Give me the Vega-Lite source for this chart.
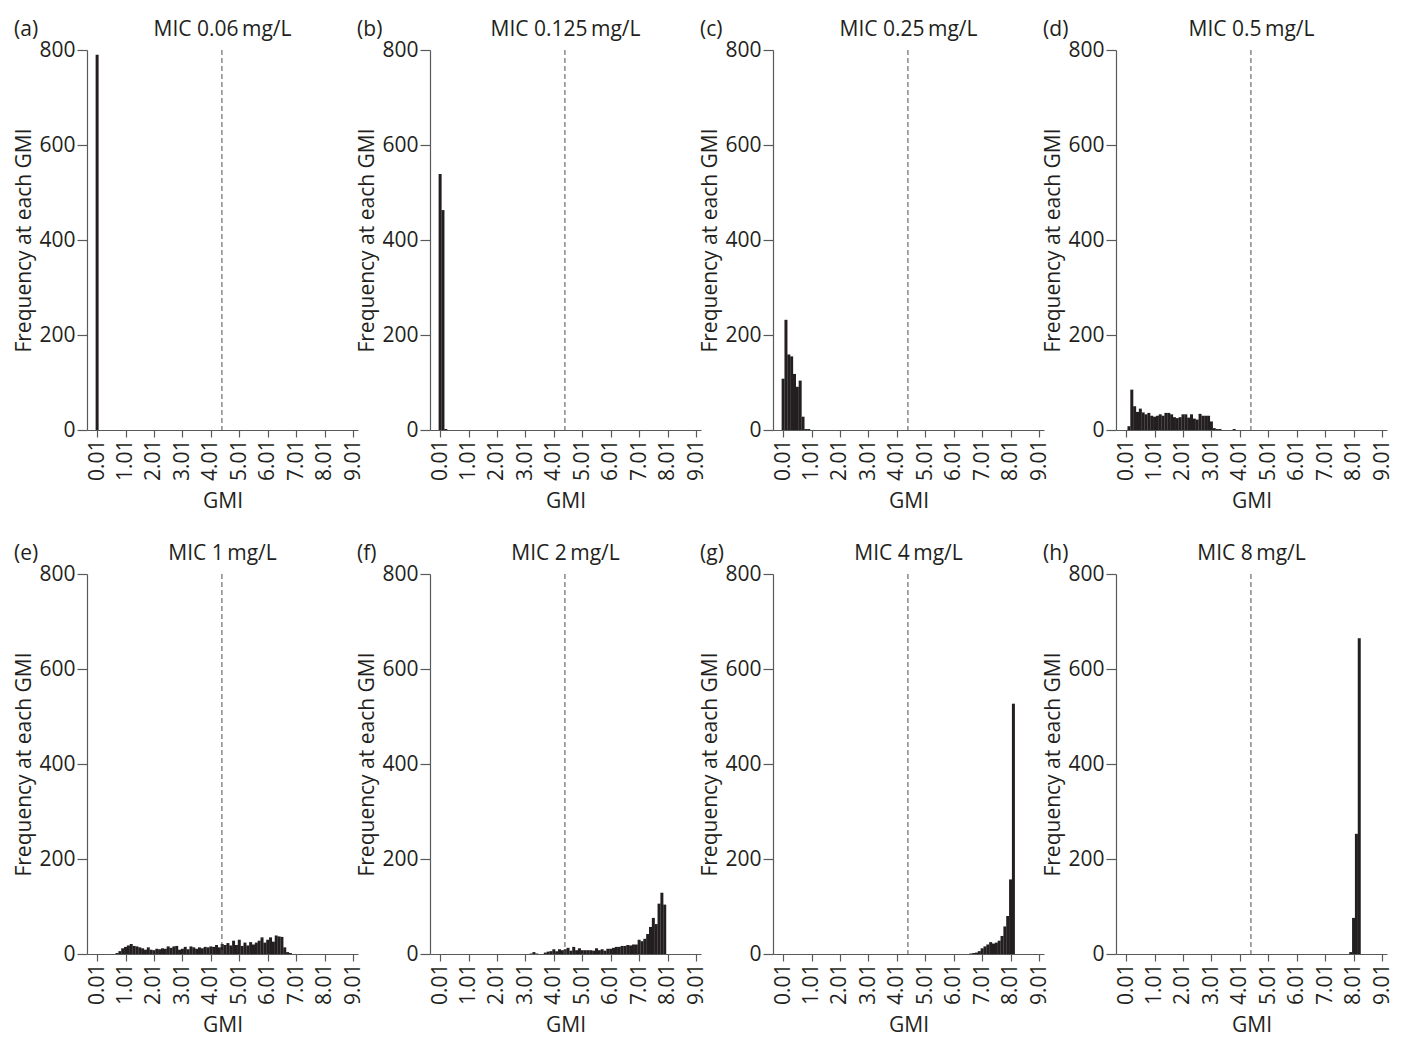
{
  "$schema": "https://vega.github.io/schema/vega-lite/v6.json",
  "padding": {"left": 13, "top": 18, "right": 5, "bottom": 5},
  "config": {
    "font": "Open Sans",
    "view": {"stroke": null},
    "axis": {"grid": false, "domainColor": "#58595b", "tickColor": "#58595b", "domainWidth": 1.2, "tickWidth": 1.2, "labelFont": "Open Sans", "labelFontSize": 21, "labelColor": "#231f20", "titleFont": "Open Sans", "titleFontSize": 21, "titleFontWeight": "normal", "titleColor": "#231f20", "labelPadding": 2, "labelOverlap": false, "labelBound": false, "labelFlush": false},
    "text": {"font": "Open Sans", "fontSize": 21, "color": "#231f20"}
  },
  "datasets": {
    "hist": [
      {"p":"a","gmi":0.01,"n":790},
      {"p":"b","gmi":0.01,"n":539},{"p":"b","gmi":0.11,"n":463},{"p":"b","gmi":0.21,"n":2},
      {"p":"c","gmi":0.01,"n":108},{"p":"c","gmi":0.11,"n":232},{"p":"c","gmi":0.21,"n":159},{"p":"c","gmi":0.31,"n":155},{"p":"c","gmi":0.41,"n":118},{"p":"c","gmi":0.51,"n":91},{"p":"c","gmi":0.61,"n":104},{"p":"c","gmi":0.71,"n":28},{"p":"c","gmi":0.81,"n":2},{"p":"c","gmi":0.91,"n":2},
      {"p":"d","gmi":0.11,"n":8},{"p":"d","gmi":0.21,"n":85},{"p":"d","gmi":0.31,"n":50},{"p":"d","gmi":0.41,"n":38},{"p":"d","gmi":0.51,"n":45},{"p":"d","gmi":0.61,"n":37},{"p":"d","gmi":0.71,"n":33},{"p":"d","gmi":0.81,"n":36},{"p":"d","gmi":0.91,"n":30},{"p":"d","gmi":1.01,"n":28},{"p":"d","gmi":1.11,"n":30},{"p":"d","gmi":1.21,"n":33},{"p":"d","gmi":1.31,"n":30},{"p":"d","gmi":1.41,"n":36},{"p":"d","gmi":1.51,"n":36},{"p":"d","gmi":1.61,"n":33},{"p":"d","gmi":1.71,"n":27},{"p":"d","gmi":1.81,"n":25},{"p":"d","gmi":1.91,"n":27},{"p":"d","gmi":2.01,"n":33},{"p":"d","gmi":2.11,"n":33},{"p":"d","gmi":2.21,"n":26},{"p":"d","gmi":2.31,"n":33},{"p":"d","gmi":2.41,"n":24},{"p":"d","gmi":2.51,"n":22},{"p":"d","gmi":2.61,"n":34},{"p":"d","gmi":2.71,"n":30},{"p":"d","gmi":2.81,"n":30},{"p":"d","gmi":2.91,"n":30},{"p":"d","gmi":3.01,"n":18},{"p":"d","gmi":3.11,"n":4},{"p":"d","gmi":3.21,"n":2},{"p":"d","gmi":3.31,"n":2},{"p":"d","gmi":3.81,"n":2},
      {"p":"e","gmi":0.71,"n":2},{"p":"e","gmi":0.81,"n":6},{"p":"e","gmi":0.91,"n":12},{"p":"e","gmi":1.01,"n":15},{"p":"e","gmi":1.11,"n":18},{"p":"e","gmi":1.21,"n":21},{"p":"e","gmi":1.31,"n":17},{"p":"e","gmi":1.41,"n":16},{"p":"e","gmi":1.51,"n":14},{"p":"e","gmi":1.61,"n":12},{"p":"e","gmi":1.71,"n":9},{"p":"e","gmi":1.81,"n":14},{"p":"e","gmi":1.91,"n":9},{"p":"e","gmi":2.01,"n":8},{"p":"e","gmi":2.11,"n":11},{"p":"e","gmi":2.21,"n":10},{"p":"e","gmi":2.31,"n":12},{"p":"e","gmi":2.41,"n":11},{"p":"e","gmi":2.51,"n":16},{"p":"e","gmi":2.61,"n":13},{"p":"e","gmi":2.71,"n":16},{"p":"e","gmi":2.81,"n":17},{"p":"e","gmi":2.91,"n":9},{"p":"e","gmi":3.01,"n":11},{"p":"e","gmi":3.11,"n":15},{"p":"e","gmi":3.21,"n":10},{"p":"e","gmi":3.31,"n":16},{"p":"e","gmi":3.41,"n":14},{"p":"e","gmi":3.51,"n":11},{"p":"e","gmi":3.61,"n":14},{"p":"e","gmi":3.71,"n":12},{"p":"e","gmi":3.81,"n":15},{"p":"e","gmi":3.91,"n":14},{"p":"e","gmi":4.01,"n":16},{"p":"e","gmi":4.11,"n":15},{"p":"e","gmi":4.21,"n":19},{"p":"e","gmi":4.31,"n":14},{"p":"e","gmi":4.41,"n":21},{"p":"e","gmi":4.51,"n":19},{"p":"e","gmi":4.61,"n":23},{"p":"e","gmi":4.71,"n":18},{"p":"e","gmi":4.81,"n":28},{"p":"e","gmi":4.91,"n":19},{"p":"e","gmi":5.01,"n":30},{"p":"e","gmi":5.11,"n":17},{"p":"e","gmi":5.21,"n":24},{"p":"e","gmi":5.31,"n":18},{"p":"e","gmi":5.41,"n":25},{"p":"e","gmi":5.51,"n":20},{"p":"e","gmi":5.61,"n":24},{"p":"e","gmi":5.71,"n":28},{"p":"e","gmi":5.81,"n":35},{"p":"e","gmi":5.91,"n":24},{"p":"e","gmi":6.01,"n":30},{"p":"e","gmi":6.11,"n":35},{"p":"e","gmi":6.21,"n":26},{"p":"e","gmi":6.31,"n":39},{"p":"e","gmi":6.41,"n":37},{"p":"e","gmi":6.51,"n":36},{"p":"e","gmi":6.61,"n":14},{"p":"e","gmi":6.71,"n":4},{"p":"e","gmi":6.81,"n":2},
      {"p":"f","gmi":3.21,"n":1},{"p":"f","gmi":3.31,"n":4},{"p":"f","gmi":3.41,"n":1},{"p":"f","gmi":3.71,"n":3},{"p":"f","gmi":3.81,"n":5},{"p":"f","gmi":3.91,"n":6},{"p":"f","gmi":4.01,"n":10},{"p":"f","gmi":4.11,"n":6},{"p":"f","gmi":4.21,"n":10},{"p":"f","gmi":4.31,"n":8},{"p":"f","gmi":4.41,"n":10},{"p":"f","gmi":4.51,"n":13},{"p":"f","gmi":4.61,"n":7},{"p":"f","gmi":4.71,"n":15},{"p":"f","gmi":4.81,"n":8},{"p":"f","gmi":4.91,"n":12},{"p":"f","gmi":5.01,"n":8},{"p":"f","gmi":5.11,"n":8},{"p":"f","gmi":5.21,"n":8},{"p":"f","gmi":5.31,"n":8},{"p":"f","gmi":5.41,"n":7},{"p":"f","gmi":5.51,"n":12},{"p":"f","gmi":5.61,"n":8},{"p":"f","gmi":5.71,"n":10},{"p":"f","gmi":5.81,"n":7},{"p":"f","gmi":5.91,"n":11},{"p":"f","gmi":6.01,"n":11},{"p":"f","gmi":6.11,"n":13},{"p":"f","gmi":6.21,"n":15},{"p":"f","gmi":6.31,"n":15},{"p":"f","gmi":6.41,"n":17},{"p":"f","gmi":6.51,"n":17},{"p":"f","gmi":6.61,"n":19},{"p":"f","gmi":6.71,"n":18},{"p":"f","gmi":6.81,"n":20},{"p":"f","gmi":6.91,"n":20},{"p":"f","gmi":7.01,"n":30},{"p":"f","gmi":7.11,"n":27},{"p":"f","gmi":7.21,"n":32},{"p":"f","gmi":7.31,"n":42},{"p":"f","gmi":7.41,"n":57},{"p":"f","gmi":7.51,"n":76},{"p":"f","gmi":7.61,"n":63},{"p":"f","gmi":7.71,"n":106},{"p":"f","gmi":7.81,"n":129},{"p":"f","gmi":7.91,"n":104},
      {"p":"g","gmi":6.61,"n":1},{"p":"g","gmi":6.71,"n":2},{"p":"g","gmi":6.81,"n":3},{"p":"g","gmi":6.91,"n":6},{"p":"g","gmi":7.01,"n":12},{"p":"g","gmi":7.11,"n":16},{"p":"g","gmi":7.21,"n":20},{"p":"g","gmi":7.31,"n":25},{"p":"g","gmi":7.41,"n":22},{"p":"g","gmi":7.51,"n":24},{"p":"g","gmi":7.61,"n":28},{"p":"g","gmi":7.71,"n":38},{"p":"g","gmi":7.81,"n":58},{"p":"g","gmi":7.91,"n":80},{"p":"g","gmi":8.01,"n":157},{"p":"g","gmi":8.11,"n":527},
      {"p":"h","gmi":7.91,"n":4},{"p":"h","gmi":8.01,"n":76},{"p":"h","gmi":8.11,"n":253},{"p":"h","gmi":8.21,"n":665}
    ]
  },
  "columns": 4,
  "bounds": "flush",
  "spacing": {"row": 144, "column": 72},
  "concat": [
    {"width": 271, "height": 380, "layer": [
      {"data": {"name": "hist"}, "transform": [{"filter": "datum.p === 'a'"}], "mark": {"type": "bar", "size": 3, "color": "#231f20"},
       "encoding": {"x": {"field": "gmi", "type": "quantitative", "scale": {"domain": [-0.17, 9.01], "nice": false, "zero": false}, "axis": {"values": [0.01,1.01,2.01,3.01,4.01,5.01,6.01,7.01,8.01,9.01], "tickCount": 20, "format": ".2f", "labelAngle": 270, "labelOverlap": false, "title": "GMI", "tickSize": 7, "titlePadding": 10}},
                    "y": {"field": "n", "type": "quantitative", "scale": {"domain": [0, 800], "nice": false}, "axis": {"values": [0,200,400,600,800], "tickCount": 10, "labelOverlap": false, "tickSize": 10, "title": "Frequency at each GMI", "titlePadding": 4}}}},
      {"data": {"values": [{"gmi": 4.4}]}, "mark": {"type": "rule", "strokeDash": [5, 3], "color": "#4d4d4f", "strokeWidth": 1}, "encoding": {"x": {"field": "gmi", "type": "quantitative"}}},
      {"data": {"values": [{"label": "(a)"}]}, "mark": {"type": "text", "align": "left", "baseline": "alphabetic"}, "encoding": {"x": {"datum": -2.91}, "y": {"datum": 830}, "text": {"field": "label"}}},
      {"data": {"values": [{"label": "MIC 0.06\u2009mg/L"}]}, "mark": {"type": "text", "align": "center", "baseline": "alphabetic"}, "encoding": {"x": {"datum": 4.42}, "y": {"datum": 830}, "text": {"field": "label"}}}
    ]},
    {"width": 271, "height": 380, "layer": [
      {"data": {"name": "hist"}, "transform": [{"filter": "datum.p === 'b'"}], "mark": {"type": "bar", "size": 3, "color": "#231f20"},
       "encoding": {"x": {"field": "gmi", "type": "quantitative", "scale": {"domain": [-0.17, 9.01], "nice": false, "zero": false}, "axis": {"values": [0.01,1.01,2.01,3.01,4.01,5.01,6.01,7.01,8.01,9.01], "tickCount": 20, "format": ".2f", "labelAngle": 270, "labelOverlap": false, "title": "GMI", "tickSize": 7, "titlePadding": 10}},
                    "y": {"field": "n", "type": "quantitative", "scale": {"domain": [0, 800], "nice": false}, "axis": {"values": [0,200,400,600,800], "tickCount": 10, "labelOverlap": false, "tickSize": 10, "title": "Frequency at each GMI", "titlePadding": 4}}}},
      {"data": {"values": [{"gmi": 4.4}]}, "mark": {"type": "rule", "strokeDash": [5, 3], "color": "#4d4d4f", "strokeWidth": 1}, "encoding": {"x": {"field": "gmi", "type": "quantitative"}}},
      {"data": {"values": [{"label": "(b)"}]}, "mark": {"type": "text", "align": "left", "baseline": "alphabetic"}, "encoding": {"x": {"datum": -2.91}, "y": {"datum": 830}, "text": {"field": "label"}}},
      {"data": {"values": [{"label": "MIC 0.125\u2009mg/L"}]}, "mark": {"type": "text", "align": "center", "baseline": "alphabetic"}, "encoding": {"x": {"datum": 4.42}, "y": {"datum": 830}, "text": {"field": "label"}}}
    ]},
    {"width": 271, "height": 380, "layer": [
      {"data": {"name": "hist"}, "transform": [{"filter": "datum.p === 'c'"}], "mark": {"type": "bar", "size": 3, "color": "#231f20"},
       "encoding": {"x": {"field": "gmi", "type": "quantitative", "scale": {"domain": [-0.17, 9.01], "nice": false, "zero": false}, "axis": {"values": [0.01,1.01,2.01,3.01,4.01,5.01,6.01,7.01,8.01,9.01], "tickCount": 20, "format": ".2f", "labelAngle": 270, "labelOverlap": false, "title": "GMI", "tickSize": 7, "titlePadding": 10}},
                    "y": {"field": "n", "type": "quantitative", "scale": {"domain": [0, 800], "nice": false}, "axis": {"values": [0,200,400,600,800], "tickCount": 10, "labelOverlap": false, "tickSize": 10, "title": "Frequency at each GMI", "titlePadding": 4}}}},
      {"data": {"values": [{"gmi": 4.4}]}, "mark": {"type": "rule", "strokeDash": [5, 3], "color": "#4d4d4f", "strokeWidth": 1}, "encoding": {"x": {"field": "gmi", "type": "quantitative"}}},
      {"data": {"values": [{"label": "(c)"}]}, "mark": {"type": "text", "align": "left", "baseline": "alphabetic"}, "encoding": {"x": {"datum": -2.91}, "y": {"datum": 830}, "text": {"field": "label"}}},
      {"data": {"values": [{"label": "MIC 0.25\u2009mg/L"}]}, "mark": {"type": "text", "align": "center", "baseline": "alphabetic"}, "encoding": {"x": {"datum": 4.42}, "y": {"datum": 830}, "text": {"field": "label"}}}
    ]},
    {"width": 271, "height": 380, "layer": [
      {"data": {"name": "hist"}, "transform": [{"filter": "datum.p === 'd'"}], "mark": {"type": "bar", "size": 3, "color": "#231f20"},
       "encoding": {"x": {"field": "gmi", "type": "quantitative", "scale": {"domain": [-0.17, 9.01], "nice": false, "zero": false}, "axis": {"values": [0.01,1.01,2.01,3.01,4.01,5.01,6.01,7.01,8.01,9.01], "tickCount": 20, "format": ".2f", "labelAngle": 270, "labelOverlap": false, "title": "GMI", "tickSize": 7, "titlePadding": 10}},
                    "y": {"field": "n", "type": "quantitative", "scale": {"domain": [0, 800], "nice": false}, "axis": {"values": [0,200,400,600,800], "tickCount": 10, "labelOverlap": false, "tickSize": 10, "title": "Frequency at each GMI", "titlePadding": 4}}}},
      {"data": {"values": [{"gmi": 4.4}]}, "mark": {"type": "rule", "strokeDash": [5, 3], "color": "#4d4d4f", "strokeWidth": 1}, "encoding": {"x": {"field": "gmi", "type": "quantitative"}}},
      {"data": {"values": [{"label": "(d)"}]}, "mark": {"type": "text", "align": "left", "baseline": "alphabetic"}, "encoding": {"x": {"datum": -2.91}, "y": {"datum": 830}, "text": {"field": "label"}}},
      {"data": {"values": [{"label": "MIC 0.5\u2009mg/L"}]}, "mark": {"type": "text", "align": "center", "baseline": "alphabetic"}, "encoding": {"x": {"datum": 4.42}, "y": {"datum": 830}, "text": {"field": "label"}}}
    ]},
    {"width": 271, "height": 380, "layer": [
      {"data": {"name": "hist"}, "transform": [{"filter": "datum.p === 'e'"}], "mark": {"type": "bar", "size": 3, "color": "#231f20"},
       "encoding": {"x": {"field": "gmi", "type": "quantitative", "scale": {"domain": [-0.17, 9.01], "nice": false, "zero": false}, "axis": {"values": [0.01,1.01,2.01,3.01,4.01,5.01,6.01,7.01,8.01,9.01], "tickCount": 20, "format": ".2f", "labelAngle": 270, "labelOverlap": false, "title": "GMI", "tickSize": 7, "titlePadding": 10}},
                    "y": {"field": "n", "type": "quantitative", "scale": {"domain": [0, 800], "nice": false}, "axis": {"values": [0,200,400,600,800], "tickCount": 10, "labelOverlap": false, "tickSize": 10, "title": "Frequency at each GMI", "titlePadding": 4}}}},
      {"data": {"values": [{"gmi": 4.4}]}, "mark": {"type": "rule", "strokeDash": [5, 3], "color": "#4d4d4f", "strokeWidth": 1}, "encoding": {"x": {"field": "gmi", "type": "quantitative"}}},
      {"data": {"values": [{"label": "(e)"}]}, "mark": {"type": "text", "align": "left", "baseline": "alphabetic"}, "encoding": {"x": {"datum": -2.91}, "y": {"datum": 830}, "text": {"field": "label"}}},
      {"data": {"values": [{"label": "MIC 1\u2009mg/L"}]}, "mark": {"type": "text", "align": "center", "baseline": "alphabetic"}, "encoding": {"x": {"datum": 4.42}, "y": {"datum": 830}, "text": {"field": "label"}}}
    ]},
    {"width": 271, "height": 380, "layer": [
      {"data": {"name": "hist"}, "transform": [{"filter": "datum.p === 'f'"}], "mark": {"type": "bar", "size": 3, "color": "#231f20"},
       "encoding": {"x": {"field": "gmi", "type": "quantitative", "scale": {"domain": [-0.17, 9.01], "nice": false, "zero": false}, "axis": {"values": [0.01,1.01,2.01,3.01,4.01,5.01,6.01,7.01,8.01,9.01], "tickCount": 20, "format": ".2f", "labelAngle": 270, "labelOverlap": false, "title": "GMI", "tickSize": 7, "titlePadding": 10}},
                    "y": {"field": "n", "type": "quantitative", "scale": {"domain": [0, 800], "nice": false}, "axis": {"values": [0,200,400,600,800], "tickCount": 10, "labelOverlap": false, "tickSize": 10, "title": "Frequency at each GMI", "titlePadding": 4}}}},
      {"data": {"values": [{"gmi": 4.4}]}, "mark": {"type": "rule", "strokeDash": [5, 3], "color": "#4d4d4f", "strokeWidth": 1}, "encoding": {"x": {"field": "gmi", "type": "quantitative"}}},
      {"data": {"values": [{"label": "(f)"}]}, "mark": {"type": "text", "align": "left", "baseline": "alphabetic"}, "encoding": {"x": {"datum": -2.91}, "y": {"datum": 830}, "text": {"field": "label"}}},
      {"data": {"values": [{"label": "MIC 2\u2009mg/L"}]}, "mark": {"type": "text", "align": "center", "baseline": "alphabetic"}, "encoding": {"x": {"datum": 4.42}, "y": {"datum": 830}, "text": {"field": "label"}}}
    ]},
    {"width": 271, "height": 380, "layer": [
      {"data": {"name": "hist"}, "transform": [{"filter": "datum.p === 'g'"}], "mark": {"type": "bar", "size": 3, "color": "#231f20"},
       "encoding": {"x": {"field": "gmi", "type": "quantitative", "scale": {"domain": [-0.17, 9.01], "nice": false, "zero": false}, "axis": {"values": [0.01,1.01,2.01,3.01,4.01,5.01,6.01,7.01,8.01,9.01], "tickCount": 20, "format": ".2f", "labelAngle": 270, "labelOverlap": false, "title": "GMI", "tickSize": 7, "titlePadding": 10}},
                    "y": {"field": "n", "type": "quantitative", "scale": {"domain": [0, 800], "nice": false}, "axis": {"values": [0,200,400,600,800], "tickCount": 10, "labelOverlap": false, "tickSize": 10, "title": "Frequency at each GMI", "titlePadding": 4}}}},
      {"data": {"values": [{"gmi": 4.4}]}, "mark": {"type": "rule", "strokeDash": [5, 3], "color": "#4d4d4f", "strokeWidth": 1}, "encoding": {"x": {"field": "gmi", "type": "quantitative"}}},
      {"data": {"values": [{"label": "(g)"}]}, "mark": {"type": "text", "align": "left", "baseline": "alphabetic"}, "encoding": {"x": {"datum": -2.91}, "y": {"datum": 830}, "text": {"field": "label"}}},
      {"data": {"values": [{"label": "MIC 4\u2009mg/L"}]}, "mark": {"type": "text", "align": "center", "baseline": "alphabetic"}, "encoding": {"x": {"datum": 4.42}, "y": {"datum": 830}, "text": {"field": "label"}}}
    ]},
    {"width": 271, "height": 380, "layer": [
      {"data": {"name": "hist"}, "transform": [{"filter": "datum.p === 'h'"}], "mark": {"type": "bar", "size": 3, "color": "#231f20"},
       "encoding": {"x": {"field": "gmi", "type": "quantitative", "scale": {"domain": [-0.17, 9.01], "nice": false, "zero": false}, "axis": {"values": [0.01,1.01,2.01,3.01,4.01,5.01,6.01,7.01,8.01,9.01], "tickCount": 20, "format": ".2f", "labelAngle": 270, "labelOverlap": false, "title": "GMI", "tickSize": 7, "titlePadding": 10}},
                    "y": {"field": "n", "type": "quantitative", "scale": {"domain": [0, 800], "nice": false}, "axis": {"values": [0,200,400,600,800], "tickCount": 10, "labelOverlap": false, "tickSize": 10, "title": "Frequency at each GMI", "titlePadding": 4}}}},
      {"data": {"values": [{"gmi": 4.4}]}, "mark": {"type": "rule", "strokeDash": [5, 3], "color": "#4d4d4f", "strokeWidth": 1}, "encoding": {"x": {"field": "gmi", "type": "quantitative"}}},
      {"data": {"values": [{"label": "(h)"}]}, "mark": {"type": "text", "align": "left", "baseline": "alphabetic"}, "encoding": {"x": {"datum": -2.91}, "y": {"datum": 830}, "text": {"field": "label"}}},
      {"data": {"values": [{"label": "MIC 8\u2009mg/L"}]}, "mark": {"type": "text", "align": "center", "baseline": "alphabetic"}, "encoding": {"x": {"datum": 4.42}, "y": {"datum": 830}, "text": {"field": "label"}}}
    ]}
  ]
}
